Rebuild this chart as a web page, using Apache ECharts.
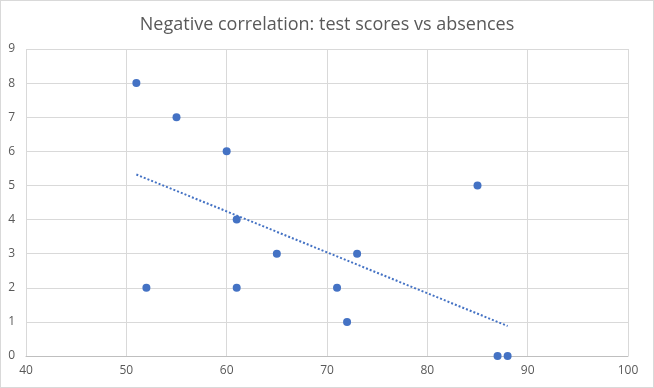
<!DOCTYPE html>
<html><head><meta charset="utf-8">
<script src="https://cdn.jsdelivr.net/npm/echarts@6/dist/echarts.min.js"></script>
<style>html,body{margin:0;padding:0;background:#fff}#c{width:652px;height:386px;border:1px solid #d9d9d9}</style>
</head><body><div id="c"></div>
<script>
var absences = [51, 55, 60, 61, 65, 73, 85, 52, 61, 71, 72, 87, 88];
var scores = [8, 7, 6, 4, 3, 3, 5, 2, 2, 2, 1, 0, 0];
var xTicks = [40, 50, 60, 70, 80, 90, 100];
var yTicks = [0, 1, 2, 3, 4, 5, 6, 7, 8, 9];
var titleText = 'Negative correlation: test scores vs absences';

var pts = absences.map(function (x, i) { return [x, scores[i]]; });
var n = absences.length, mx = 0, my = 0;
absences.forEach(function (x, i) { mx += x; my += scores[i]; });
mx /= n; my /= n;
var sxy = 0, sxx = 0;
absences.forEach(function (x, i) { sxy += (x - mx) * (scores[i] - my); sxx += (x - mx) * (x - mx); });
var slope = sxy / sxx, icpt = my - slope * mx;
var xmin = Math.min.apply(null, absences), xmax = Math.max.apply(null, absences);
var trend = [[xmin, icpt + slope * xmin], [xmax, icpt + slope * xmax]];

var chart = echarts.init(document.getElementById('c'));
chart.setOption({
  animation: false,
  title: { text: titleText, left: 'center', top: 10,
    textStyle: { fontFamily: 'Open Sans', fontSize: 18, fontWeight: 'normal', color: '#595959' } },
  grid: { left: 25, right: 25, top: 48, bottom: 31 },
  xAxis: { type: 'value', min: xTicks[0], max: xTicks[xTicks.length - 1], interval: 10,
    axisLine: { show: true, lineStyle: { color: '#bfbfbf' } }, axisTick: { show: false },
    splitLine: { lineStyle: { color: '#d9d9d9' } },
    axisLabel: { color: '#595959', fontFamily: 'Open Sans', fontSize: 12, margin: 9 } },
  yAxis: { type: 'value', min: yTicks[0], max: yTicks[yTicks.length - 1], interval: 1,
    axisLine: { show: false }, axisTick: { show: false },
    splitLine: { lineStyle: { color: '#d9d9d9' } },
    axisLabel: { color: '#595959', fontFamily: 'Open Sans', fontSize: 12, margin: 11 } },
  series: [
    { type: 'scatter', data: pts, symbolSize: 8, itemStyle: { color: '#4472C4', opacity: 1 }, z: 3 },
    { type: 'line', data: trend, showSymbol: false, symbol: 'none',
      lineStyle: { color: '#4472C4', width: 2, type: [2, 2] }, z: 2 }
  ]
});
</script></body></html>
